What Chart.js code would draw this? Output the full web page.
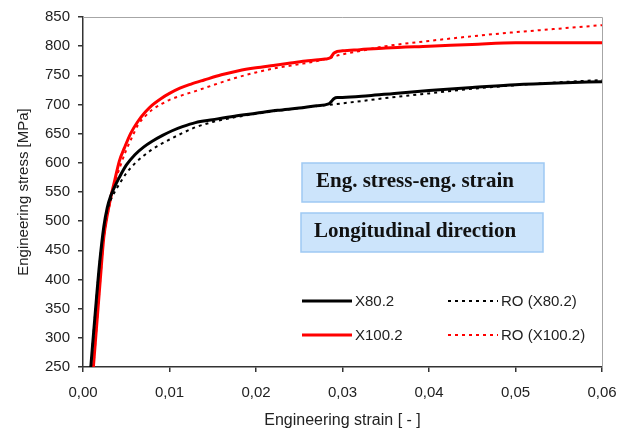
<!DOCTYPE html>
<html>
<head>
<meta charset="utf-8">
<script src="https://cdn.jsdelivr.net/npm/chart.js@4"></script>
<style>
    html, body { margin: 0; padding: 0; background: #fff; }
</style>
</head>
<body>
<canvas id="grafico" width="633" height="432"></canvas>
<script>
// X80.2 measured curve
const x80Strain = [0.0009, 0.0014, 0.0019, 0.0024, 0.0028, 0.0032, 0.0036, 0.0042, 0.0050, 0.0060, 0.0070, 0.0080, 0.0092, 0.0103, 0.0115, 0.0130, 0.0150, 0.0175, 0.0200, 0.0225, 0.0250, 0.0270, 0.0284, 0.0287, 0.0290, 0.0294, 0.0300, 0.0330, 0.0360, 0.0400, 0.0450, 0.0500, 0.0550, 0.0600];
const x80Stress = [250, 340, 425, 490, 523, 543, 557, 575, 596, 614, 627, 637, 647, 655, 662, 669, 674, 680, 685, 690, 694, 698, 701, 705, 710, 712, 712, 715, 719, 724, 729, 734, 737, 739];

// Ramberg-Osgood fit for X80.2
const roX80Strain = [0.0009, 0.0014, 0.0019, 0.0024, 0.0028, 0.0032, 0.0037, 0.0043, 0.0050, 0.0060, 0.0070, 0.0080, 0.0090, 0.0100, 0.0115, 0.0130, 0.0150, 0.0175, 0.0200, 0.0250, 0.0300, 0.0350, 0.0400, 0.0450, 0.0500, 0.0550, 0.0600];
const roX80Stress = [250, 340, 425, 488, 518, 536, 551, 566, 582, 599, 612, 623, 632, 640, 651, 661, 670, 678, 684, 694, 702, 711, 719, 727, 733, 738, 742];

// X100.2 measured curve
const x100Strain = [0.0012, 0.0016, 0.0020, 0.0024, 0.0028, 0.0032, 0.0037, 0.0042, 0.0048, 0.0055, 0.0063, 0.0072, 0.0080, 0.0090, 0.0100, 0.0112, 0.0125, 0.0140, 0.0160, 0.0180, 0.0200, 0.0220, 0.0240, 0.0260, 0.0280, 0.0286, 0.0290, 0.0294, 0.0300, 0.0320, 0.0350, 0.0400, 0.0450, 0.0500, 0.0550, 0.0600];
const x100Stress = [250, 325, 400, 472, 510, 540, 572, 603, 626, 650, 670, 687, 699, 710, 719, 728, 735, 742, 751, 758, 763, 767, 771, 775, 778, 780, 788, 791, 792, 794, 797, 800, 803, 806, 806, 806];

// Ramberg-Osgood fit for X100.2
const roX100Strain = [0.0012, 0.0016, 0.0020, 0.0024, 0.0028, 0.0032, 0.0037, 0.0043, 0.0050, 0.0057, 0.0064, 0.0072, 0.0080, 0.0091, 0.0100, 0.0115, 0.0130, 0.0150, 0.0175, 0.0200, 0.0225, 0.0250, 0.0275, 0.0300, 0.0325, 0.0350, 0.0400, 0.0450, 0.0500, 0.0550, 0.0600];
const roX100Stress = [250, 325, 400, 470, 508, 536, 566, 594, 622, 645, 666, 680, 691, 701, 708, 716, 723, 733, 745, 755, 763, 769, 776, 786, 793, 800, 809, 817, 824, 830, 836];

const xTicks = [0, 0.01, 0.02, 0.03, 0.04, 0.05, 0.06];
const yTicks = [250, 300, 350, 400, 450, 500, 550, 600, 650, 700, 750, 800, 850];

const boxTexts = ["Eng. stress-eng. strain", "Longitudinal direction"];

const sans = "'Liberation Sans', Arial, sans-serif";
const serif = "'Liberation Serif', 'Times New Roman', serif";
const dots = [3, 4];

const pts = (xs, ys) => xs.map((x, i) => ({ x: x, y: ys[i] }));

// plot frame (top/right), text boxes and legend
const decoracao = {
    id: 'decoracao',
    beforeDatasetsDraw(chart) {
        const { ctx, chartArea: a } = chart;
        ctx.save();
        ctx.strokeStyle = '#a6a6a6';
        ctx.lineWidth = 1;
        ctx.beginPath();
        ctx.moveTo(a.left, a.top + 0.5);
        ctx.lineTo(a.right + 0.5, a.top + 0.5);
        ctx.lineTo(a.right + 0.5, a.bottom);
        ctx.stroke();
        ctx.restore();
    },
    afterDraw(chart) {
        const ctx = chart.ctx;
        ctx.save();

        const boxes = [
            { x: 302, y: 163, w: 242, h: 39, tx: 316, ty: 187 },
            { x: 301, y: 213, w: 242, h: 39, tx: 314, ty: 237 }
        ];
        boxes.forEach((b, i) => {
            ctx.fillStyle = '#cce4fb';
            ctx.fillRect(b.x, b.y, b.w, b.h);
            ctx.strokeStyle = '#9ec9f3';
            ctx.lineWidth = 1.5;
            ctx.strokeRect(b.x, b.y, b.w, b.h);
            ctx.fillStyle = '#111';
            ctx.font = 'bold 21px ' + serif;
            ctx.textBaseline = 'alphabetic';
            ctx.textAlign = 'left';
            ctx.fillText(boxTexts[i], b.tx, b.ty);
        });

        const ds = chart.data.datasets;
        const slots = [
            { d: 0, x: 302, y: 301 },
            { d: 1, x: 448, y: 301 },
            { d: 2, x: 302, y: 335 },
            { d: 3, x: 448, y: 335 }
        ];
        slots.forEach(s => {
            const d = ds[s.d];
            ctx.strokeStyle = d.borderColor;
            ctx.lineWidth = d.borderWidth;
            ctx.setLineDash(d.borderDash || []);
            ctx.beginPath();
            ctx.moveTo(s.x, s.y);
            ctx.lineTo(s.x + 50, s.y);
            ctx.stroke();
            ctx.setLineDash([]);
            ctx.fillStyle = '#222';
            ctx.font = '15px ' + sans;
            ctx.textBaseline = 'middle';
            ctx.fillText(d.label, s.x + 53, s.y + 1);
        });
        ctx.restore();
    }
};

new Chart(document.getElementById('grafico'), {
    type: 'scatter',
    data: {
        datasets: [
            { label: 'X80.2', data: pts(x80Strain, x80Stress), borderColor: '#000', borderWidth: 3 },
            { label: 'RO (X80.2)', data: pts(roX80Strain, roX80Stress), borderColor: '#000', borderWidth: 2, borderDash: dots },
            { label: 'X100.2', data: pts(x100Strain, x100Stress), borderColor: '#ff0000', borderWidth: 3 },
            { label: 'RO (X100.2)', data: pts(roX100Strain, roX100Stress), borderColor: '#ff0000', borderWidth: 2, borderDash: dots }
        ].map(d => Object.assign(d, { showLine: true, pointRadius: 0, cubicInterpolationMode: 'monotone', fill: false }))
    },
    options: {
        responsive: false,
        animation: false,
        layout: { padding: { top: 14, right: 31, left: 0, bottom: 0 } },
        plugins: {
            legend: { display: false },
            tooltip: { enabled: false }
        },
        scales: {
            x: {
                type: 'linear',
                min: xTicks[0],
                max: xTicks[xTicks.length - 1],
                afterBuildTicks: s => { s.ticks = xTicks.map(v => ({ value: v })); },
                afterFit: s => { s.height = 65; },
                border: { color: '#333', width: 1.5 },
                grid: { drawOnChartArea: false, tickLength: 5, color: '#333', lineWidth: 1.5 },
                ticks: {
                    padding: 12,
                    maxRotation: 0,
                    color: '#222',
                    font: { family: sans, size: 15 },
                    callback: v => v.toFixed(2).replace('.', ',')
                },
                title: {
                    display: true,
                    text: 'Engineering strain [ - ]',
                    color: '#222',
                    font: { family: sans, size: 16 },
                    padding: { top: 3, bottom: 2 }
                }
            },
            y: {
                min: yTicks[0],
                max: yTicks[yTicks.length - 1],
                afterBuildTicks: s => { s.ticks = yTicks.map(v => ({ value: v })); },
                afterFit: s => { s.width = 83; },
                border: { color: '#333', width: 1.5 },
                grid: { drawOnChartArea: false, tickLength: 5, color: '#333', lineWidth: 1.5 },
                ticks: {
                    padding: 8,
                    color: '#222',
                    font: { family: sans, size: 15 }
                },
                title: {
                    display: true,
                    text: 'Engineering stress [MPa]',
                    color: '#222',
                    font: { family: sans, size: 15 },
                    padding: { top: 15, bottom: 0 }
                }
            }
        }
    },
    plugins: [decoracao]
});
</script>
</body>
</html>
